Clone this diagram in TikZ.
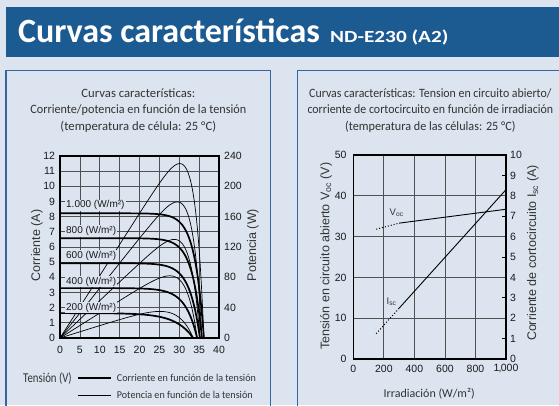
\documentclass[tikz,border=0pt]{standalone}
\usepackage{fontspec}
\usepackage{graphicx}
\setmainfont{Liberation Sans}
\newfontfamily\frut{Carlito}
\definecolor{bg}{HTML}{DCE4EF}
\definecolor{titlebar}{HTML}{1C5A92}
\definecolor{boxline}{HTML}{3566A0}
\definecolor{txt}{HTML}{333333}
\definecolor{tickc}{HTML}{1A1A1A}
\definecolor{gridc}{HTML}{505050}
\tikzset{
  gridline/.style={draw=gridc, line width=0.7pt},
  frameline/.style={draw=black, line width=1.2pt},
  ivcurve/.style={draw=black, line width=1.7pt},
  pcurve/.style={draw=black, line width=0.7pt},
  ticklbl/.style={font=\fontsize{10.5}{12}\selectfont, text=tickc, inner sep=0pt},
  axtitle/.style={font=\fontsize{12.5}{14}\selectfont, text=txt, inner sep=0pt},
  irrlbl/.style={font=\fontsize{10}{12}\selectfont, text=tickc, fill=bg, inner sep=1pt, anchor=west},
  header/.style={font=\frut\fontsize{12.7}{16.4}\selectfont, text=txt, align=center, inner sep=0pt},
  legtxt/.style={font=\frut\fontsize{10.5}{12}\selectfont, text=txt, anchor=west, inner sep=0pt},
  dotline/.style={draw=black, line width=1pt, dash pattern=on 1pt off 2pt},
  solidline/.style={draw=black, line width=0.9pt},
}
\begin{document}
\begin{tikzpicture}[x=1pt,y=-1pt]
\useasboundingbox (0,0) rectangle (559,405);
\fill[bg] (0,0) rectangle (559,405);
% title bar
\fill[titlebar] (6,6.7) rectangle (559,56.7);
\node[anchor=base west, text=white, inner sep=0pt, font=\frut\bfseries\fontsize{34}{34}\selectfont] (title) at (17.9,42.7) {Curvas características};
\node[anchor=base west, text=white, inner sep=0pt, font=\frut\bfseries\fontsize{17}{17}\selectfont] (model) at (330,42.7) {\scalebox{1.25}[1]{ND-E230 (A2)}};
% panels
\draw[boxline, line width=1.1pt] (6,70.7) rectangle (270.7,420);
\draw[boxline, line width=1.1pt] (297.7,70.7) rectangle (575,420);
\node[header] (hleft) at (138.3,110.5) {Curvas características:\\\scalebox{0.96}[1]{Corriente/potencia en función de la tensión}\\(temperatura de célula: 25 °C)};
\node[header] (hright) at (430.3,110.5) {\scalebox{0.935}[1]{Curvas características: Tension en circuito abierto/}\\\scalebox{0.935}[1]{corriente de cortocircuito en función de irradiación}\\\scalebox{0.96}[1]{(temperatura de las células: 25 °C)}};

% ---------------- left chart
\begin{scope}[shift={(60,338)}, x=3.975pt, y=15.17pt]
  \foreach \v in {5,10,...,35} \draw[gridline] (\v,0) -- (\v,12);
  \foreach \v in {1,...,11} \draw[gridline] (0,\v) -- (40,\v);
  \foreach \isc/\voc/\aa in {8.22/36.2/2.3, 6.58/35.7/2.4, 4.93/35.2/2.59, 3.29/34.5/2.96, 1.64/33.5/4.4}{
    \draw[ivcurve] plot[domain=0:\voc, samples=160] (\x, {\isc*(1-exp(max(-9,(\x-\voc)/\aa)))});
    \draw[pcurve] plot[domain=0:\voc, samples=160] (\x, {\x*\isc*(1-exp(max(-9,(\x-\voc)/\aa)))/20});
  }
  \draw[frameline] (0,0) rectangle (40,12);
  \foreach \v in {0,...,12} \node[ticklbl, anchor=east] (ly\v) at (-1.2,\v) {\v};
  \foreach \v in {0,5,...,40} \node[ticklbl] (lx\v) at (\v,-0.79) {\v};
  \foreach \v/\w in {0/0,2/40,4/80,6/120,8/160,10/200,12/240} \node[ticklbl, anchor=west] (ry\v) at (41.26,\v) {\w};
  \node[irrlbl] (g1000) at (1.25,8.75) {1.000 (W/m²)};
  \node[irrlbl] (g800) at (1.25,7.05) {800 (W/m²)};
  \node[irrlbl] (g600) at (1.25,5.40) {600 (W/m²)};
  \node[irrlbl] (g400) at (1.25,3.71) {400 (W/m²)};
  \node[irrlbl] (g200) at (1.25,2.0) {200 (W/m²)};
\end{scope}
\node[axtitle, rotate=90] (yleft) at (37,245.5) {Corriente (A)};
\node[axtitle, rotate=90] (yright) at (253,245) {Potencia (W)};
% legend
\node[anchor=west, inner sep=0pt, text=txt, font=\frut\fontsize{13.5}{15}\selectfont] (xlab) at (23,378) {\scalebox{0.8}[1]{Tensión (V)}};
\coordinate (la1) at (78,378); \coordinate (lb1) at (110.7,378);
\coordinate (la2) at (78,395); \coordinate (lb2) at (110.7,395);
\draw[ivcurve] (la1) -- (lb1);
\draw[pcurve] (la2) -- (lb2);
\node[legtxt] (leg1) at (116.7,378) {\scalebox{0.96}[1]{Corriente en función de la tensión}};
\node[legtxt] (leg2) at (116.7,395) {\scalebox{0.96}[1]{Potencia en función de la tensión}};

% ---------------- right chart
\begin{scope}[shift={(353.3,359)}, x=0.1527pt, y=4.08pt]
  \foreach \v in {200,400,600,800} \draw[gridline] (\v,0) -- (\v,50);
  \foreach \v in {10,20,30,40} \draw[gridline] (0,\v) -- (1000,\v);
  \foreach \v in {1,3,5,7,9} \draw[frameline, line width=0.9pt] (975,\v*5) -- (1000,\v*5);
  \draw[frameline] (0,0) rectangle (1000,50);
  \coordinate (va) at (150,31.8); \coordinate (vb) at (300,33.3); \coordinate (vc) at (1000,36.7);
  \coordinate (ia) at (150,6.2); \coordinate (ib) at (300,12.45); \coordinate (ic) at (1000,41.5);
  \draw[dotline] (va) -- (vb);
  \draw[solidline] (vb) -- (vc);
  \draw[dotline] (ia) -- (ib);
  \draw[solidline] (ib) -- (ic);
  \node[font=\fontsize{9.5}{11}\selectfont, text=txt, inner sep=0pt] (voclbl) at (284,35.9) {V\textsubscript{oc}};
  \node[font=\fontsize{9.5}{11}\selectfont, text=txt, inner sep=0pt] (isclbl) at (251,14.0) {I\textsubscript{sc}};
  \foreach \v in {0,10,...,50} \node[ticklbl, anchor=east] (rly\v) at (-43.2,\v) {\v};
  \foreach \v in {0,200,400,600,800} \node[ticklbl] (rlx\v) at (\v,-2.45) {\v};
  \node[ticklbl] (rlx1000) at (1000,-2.45) {1\kern-0.8pt,\kern-0.8pt000};
  \foreach \v in {0,...,10} \node[ticklbl, anchor=west] (rry\v) at (1026,\v*5) {\v};
\end{scope}
\node[axtitle, rotate=90] (yvoc) at (326,256) {Tensión en circuito abierto V\textsubscript{oc} (V)};
\node[axtitle, rotate=90] (yisc) at (533,253) {Corriente de cortocircuito I\textsubscript{sc} (A)};
\node[inner sep=0pt, text=txt, font=\frut\fontsize{12}{14}\selectfont] (xirr) at (429.2,393.3) {Irradiación (W/m²)};
\end{tikzpicture}
\end{document}
